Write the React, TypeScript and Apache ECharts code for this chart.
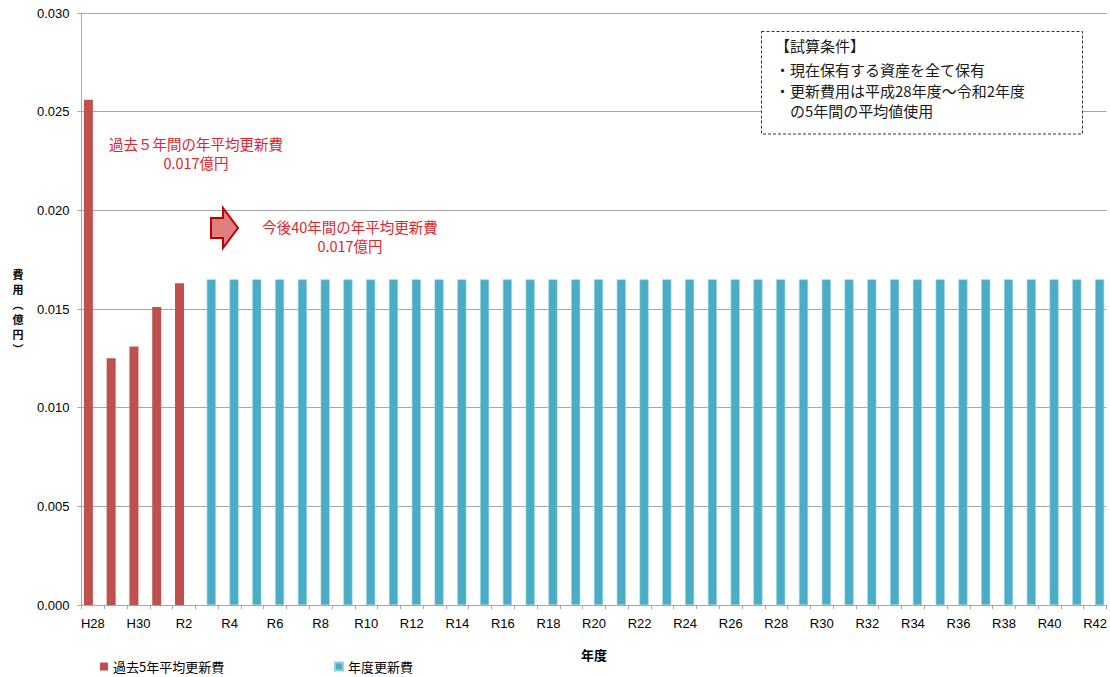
import React, { useEffect, useRef } from "react";
import * as echarts from "echarts";

// Fiscal years: H28–H30, then R1–R42
const years: string[] = [
  "H28", "H29", "H30",
  ...Array.from({ length: 42 }, (_, i) => `R${i + 1}`),
];

// Actual renewal costs for the past five years (億円)
const pastYears: string[] = ["H28", "H29", "H30", "R1", "R2"];
const pastCosts: number[] = [0.0256, 0.0125, 0.0131, 0.0151, 0.0163];

// Projected yearly renewal cost for the next 40 years (億円)
const futureYears: string[] = years.slice(5);
const futureCost = 0.0165;

const yTicks = { min: 0, max: 0.03, interval: 0.005 };

const seriesPastName = "過去5年平均更新費";
const seriesFutureName = "年度更新費";

// y-axis title, written top to bottom
const yTitleChars: string[] = ["費", "用", "︵", "億", "円", "︶"];

const conditionLines: string[] = [
  "【試算条件】",
  "・現在保有する資産を全て保有",
  "・更新費用は平成28年度～令和2年度",
  "　の5年間の平均値使用",
];

const pastNote: string[] = ["過去５年間の年平均更新費", "0.017億円"];
const futureNote: string[] = ["今後40年間の年平均更新費", "0.017億円"];

const RED = "#c0504d";
const BLUE = "#4bacc6";
const NOTE_RED = "#e0262b";
const GRID_GRAY = "#a6a6a6";
const LATIN = "'Liberation Sans', Arial, sans-serif";
const CJK = "'Noto Sans CJK JP', sans-serif";

export default function App() {
  const ref = useRef<HTMLDivElement>(null);

  useEffect(() => {
    if (!ref.current) return;
    const chart = echarts.init(ref.current, null, { renderer: "svg" });

    const pastData = years.map((y) => {
      const i = pastYears.indexOf(y);
      return i >= 0 ? pastCosts[i] : "-";
    });
    const futureData = years.map((y) =>
      futureYears.includes(y) ? futureCost : "-"
    );

    const noteText = (lines: string[], cx: number, ys: number[]) =>
      lines.map((t, i) => ({
        type: "text",
        x: cx,
        y: ys[i],
        style: {
          text: t,
          fill: NOTE_RED,
          font: `14.5px ${CJK}`,
          align: "center",
          verticalAlign: "middle",
        },
        z: 10,
      }));

    const legendBase = {
      itemWidth: 8,
      itemHeight: 8,
      itemGap: 0,
      padding: 0,
      icon: "rect",
      textStyle: { fontFamily: CJK, fontSize: 13, color: "#000" },
    };

    chart.setOption({
      animation: false,
      backgroundColor: "#ffffff",
      grid: { left: 81.5, right: -2, top: 13, bottom: 72, containLabel: false },
      xAxis: {
        type: "category",
        data: years,
        name: "年度",
        nameLocation: "middle",
        nameGap: 43,
        nameTextStyle: { fontFamily: CJK, fontSize: 13, fontWeight: "bold", color: "#000" },
        axisLine: { lineStyle: { color: GRID_GRAY } },
        axisTick: { show: true, interval: 0, length: 4, lineStyle: { color: GRID_GRAY } },
        axisLabel: {
          interval: 1,
          margin: 12,
          fontFamily: LATIN,
          fontSize: 13,
          color: "#000",
        },
      },
      yAxis: {
        type: "value",
        min: yTicks.min,
        max: yTicks.max,
        interval: yTicks.interval,
        axisLine: { show: true, lineStyle: { color: GRID_GRAY } },
        axisTick: { show: true, length: 4, lineStyle: { color: GRID_GRAY } },
        splitLine: { lineStyle: { color: GRID_GRAY, width: 1 } },
        axisLabel: {
          margin: 12,
          fontFamily: LATIN,
          fontSize: 13,
          color: "#000",
          formatter: (v: number) => v.toFixed(3),
        },
      },
      legend: [
        { ...legendBase, data: [seriesPastName], left: 100, top: 660 },
        { ...legendBase, data: [seriesFutureName], left: 334, top: 660 },
      ],
      series: [
        {
          name: seriesPastName,
          type: "bar",
          data: pastData,
          barWidth: 9,
          barGap: "0%",
          itemStyle: { color: RED },
        },
        {
          name: seriesFutureName,
          type: "bar",
          data: futureData,
          barWidth: 9,
          barGap: "0%",
          itemStyle: { color: BLUE, borderColor: "#8fd2e2", borderWidth: 0.6 },
        },
      ],
      graphic: [
        // vertical y-axis title, one glyph per row
        ...yTitleChars.map((c, i) => ({
          type: "text",
          x: 18,
          y: 274 + i * 15,
          style: {
            text: c,
            font: `bold 11px ${CJK}`,
            fill: "#000",
            align: "center",
            verticalAlign: "middle",
          },
        })),
        // calculation-conditions box
        {
          type: "rect",
          shape: { x: 761.5, y: 31.5, width: 321, height: 102.5 },
          style: { fill: "#ffffff", stroke: "#333", lineWidth: 1, lineDash: [3, 2] },
          z: 10,
        },
        ...conditionLines.map((t, i) => ({
          type: "text",
          x: 775,
          y: [45, 69, 90, 110][i],
          style: {
            text: t,
            font: `15px ${CJK}`,
            fill: "#1a1a1a",
            align: "left",
            verticalAlign: "middle",
          },
          z: 11,
        })),
        ...noteText(pastNote, 196, [143, 162]),
        ...noteText(futureNote, 350, [226.5, 245.5]),
        // block arrow
        {
          type: "polygon",
          shape: {
            points: [
              [211, 218], [223, 218], [223, 208], [238, 228],
              [223, 248], [223, 238], [211, 238],
            ],
          },
          style: { fill: "#e07f7f", stroke: "#c00000", lineWidth: 2 },
          z: 10,
        },
      ],
    });

    return () => chart.dispose();
  }, []);

  return (
    <div
      ref={ref}
      style={{ position: "fixed", left: 0, top: 0, width: 1110, height: 677, background: "#fff" }}
    />
  );
}
